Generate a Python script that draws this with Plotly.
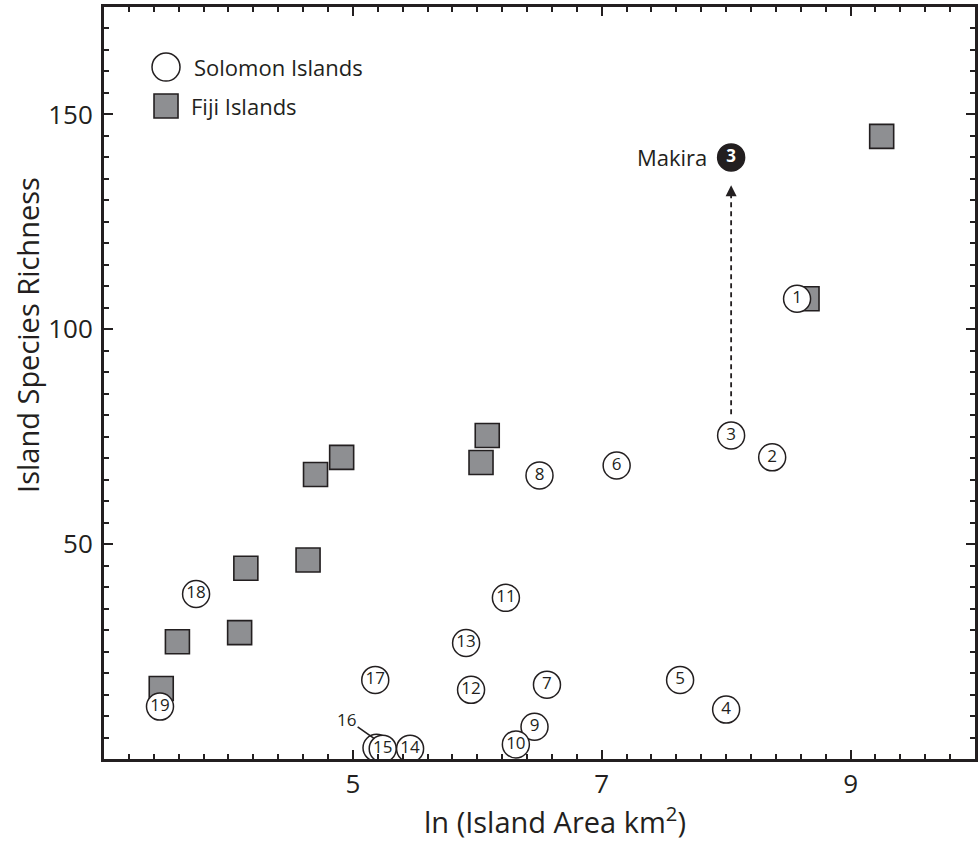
import plotly.graph_objects as go

# ---- data ----
sol_labels = ["1", "2", "3", "4", "5", "6", "7", "8", "9", "10", "11", "12", "13",
              "16", "15", "14", "17", "18", "19"]
sol_x = [8.57, 8.37, 8.04, 8.00, 7.63, 7.12, 6.56, 6.50, 6.46, 6.31, 6.23, 5.95, 5.91,
         5.19, 5.24, 5.46, 5.18, 3.74, 3.45]
sol_y = [107.1, 70.2, 75.3, 11.5, 18.4, 68.3, 17.3, 66.0, 7.5, 3.4, 37.5, 16.1, 27.0,
         2.6, 2.4, 2.4, 18.4, 38.4, 12.2]

fiji_x = [3.46, 3.59, 4.09, 4.14, 4.64, 4.70, 4.91, 6.03, 6.08, 8.65, 9.25]
fiji_y = [16.4, 27.3, 29.4, 44.4, 46.3, 66.2, 70.2, 69.0, 75.3, 107.1, 144.9]

makira_label = "3"
makira_name = "Makira"
makira_x = [8.04]
makira_y = [140.0]
makira_from_y = 80.2
makira_tip_y = 133.5

x_ticks = [5, 7, 9]
y_ticks = [50, 100, 150]

INK = "#231f20"
GRAY = "#8e8f92"
FONT = "Open Sans"

# island 16 is hidden behind 15 and labelled outside the circle
i16 = sol_labels.index("16")
main_idx = [i for i in range(len(sol_labels)) if i != i16]

fig = go.Figure()

fig.add_trace(go.Scatter(
    x=fiji_x, y=fiji_y, mode="markers", name="Fiji Islands",
    marker=dict(symbol="square", size=24, color=GRAY,
                line=dict(color=INK, width=1.6)),
    showlegend=False, hoverinfo="x+y"))

fig.add_trace(go.Scatter(
    x=[sol_x[i16]], y=[sol_y[i16]], mode="markers", name="16",
    marker=dict(symbol="circle", size=27, color="white",
                line=dict(color=INK, width=1.5)),
    showlegend=False, hoverinfo="x+y"))

fig.add_trace(go.Scatter(
    x=[sol_x[i] for i in main_idx], y=[sol_y[i] for i in main_idx],
    mode="markers+text", name="Solomon Islands",
    text=[sol_labels[i] for i in main_idx], textposition="middle center",
    textfont=dict(family=FONT, size=17, color=INK),
    marker=dict(symbol="circle", size=27, color="white",
                line=dict(color=INK, width=1.5)),
    showlegend=False, hoverinfo="x+y+text"))

# dashed arrow from island 3 to Makira
fig.add_trace(go.Scatter(
    x=[makira_x[0], makira_x[0]], y=[makira_from_y, makira_tip_y - 1.5],
    mode="lines", line=dict(color=INK, width=1.8, dash="5px,4px"),
    showlegend=False, hoverinfo="skip"))
fig.add_trace(go.Scatter(
    x=[makira_x[0]], y=[makira_tip_y], mode="markers",
    marker=dict(symbol="arrow-up", size=11, color=INK, line=dict(width=0)),
    showlegend=False, hoverinfo="skip"))

fig.add_trace(go.Scatter(
    x=makira_x, y=makira_y, mode="markers+text", name=makira_name,
    text=["<b>" + makira_label + "</b>"], textposition="middle center",
    textfont=dict(family=FONT, size=17, color="white"),
    marker=dict(symbol="circle", size=27, color=INK, line=dict(color=INK, width=1.5)),
    showlegend=False, hoverinfo="x+y"))

fig.add_annotation(x=makira_x[0], y=makira_y[0], text=makira_name, showarrow=False,
                   xanchor="right", yanchor="middle", xshift=-22,
                   font=dict(family=FONT, size=22, color=INK))

# label 16 with leader line
fig.add_annotation(x=sol_x[i16] - 0.02, y=sol_y[i16] + 2.2, ax=4.95, ay=9.3,
                   xref="x", yref="y", axref="x", ayref="y", text=sol_labels[i16],
                   showarrow=True, arrowhead=0, arrowwidth=1.6, arrowcolor=INK,
                   font=dict(family=FONT, size=17, color=INK))

# legend (drawn manually to keep large symbols)
fig.add_shape(type="circle", xref="paper", yref="paper", xsizemode="pixel", ysizemode="pixel",
              xanchor=0.0712, yanchor=0.9202, x0=-14, x1=14, y0=-14, y1=14,
              line=dict(color=INK, width=1.5), fillcolor="white")
fig.add_shape(type="rect", xref="paper", yref="paper", xsizemode="pixel", ysizemode="pixel",
              xanchor=0.0712, yanchor=0.8684, x0=-12, x1=12, y0=-12, y1=12,
              line=dict(color=INK, width=1.6), fillcolor=GRAY)
fig.add_annotation(x=0.1010, y=0.9202, xref="paper", yref="paper", text="Solomon Islands",
                   showarrow=False, xanchor="left", yanchor="middle",
                   font=dict(family=FONT, size=22, color=INK))
fig.add_annotation(x=0.0976, y=0.8684, xref="paper", yref="paper", text="Fiji Islands",
                   showarrow=False, xanchor="left", yanchor="middle",
                   font=dict(family=FONT, size=22, color=INK))

# axis titles
fig.add_annotation(x=0.5178, y=-0.0811, xref="paper", yref="paper",
                   text="ln (Island Area km<sup>2</sup>)", showarrow=False,
                   xanchor="center", yanchor="middle",
                   font=dict(family=FONT, size=29, color=INK))
fig.add_annotation(x=-0.0885, y=0.5638, xref="paper", yref="paper",
                   text="Island Species Richness", showarrow=False, textangle=-90,
                   xanchor="center", yanchor="middle",
                   font=dict(family=FONT, size=29, color=INK))

axis_common = dict(showline=True, linewidth=3, linecolor=INK, mirror="ticks",
                   ticks="inside", ticklen=9, tickwidth=2, tickcolor=INK,
                   showgrid=False, zeroline=False,
                   tickfont=dict(family=FONT, size=26, color=INK))

fig.update_xaxes(range=[3.0, 10.0], tickvals=x_ticks,
                 minor=dict(dtick=0.2, tick0=0, ticks="inside", ticklen=5, tickwidth=2, tickcolor=INK),
                 **axis_common)
fig.update_yaxes(range=[0, 175], tickvals=y_ticks, ticklabelstandoff=3,
                 minor=dict(dtick=5, tick0=0, ticks="inside", ticklen=5, tickwidth=2, tickcolor=INK),
                 **axis_common)

fig.update_layout(width=978, height=841, margin=dict(l=104, r=3, t=7, b=82, autoexpand=False),
                  plot_bgcolor="white", paper_bgcolor="white", showlegend=False,
                  font=dict(family=FONT, color=INK))

fig.write_html("out.html", config={"displayModeBar": False},
               post_script="document.body.style.margin='0';document.body.style.overflow='hidden';")
